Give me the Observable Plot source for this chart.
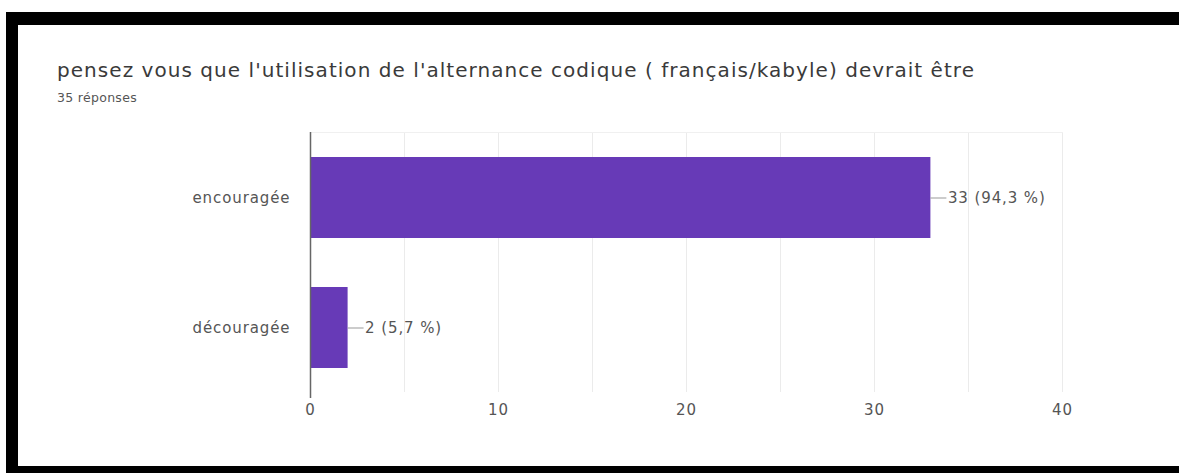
<!DOCTYPE html>
<html>
<head>
<meta charset="utf-8">
<script src="https://cdn.jsdelivr.net/npm/d3@7"></script>
<script src="https://cdn.jsdelivr.net/npm/@observablehq/plot@0.6"></script>
<style>
  html, body { margin: 0; padding: 0; background: #fff; }
  body { width: 1179px; height: 473px; position: relative; overflow: hidden; font-family: "DejaVu Sans", sans-serif; }
  .bt { position: absolute; left: 6px; top: 12px; width: 1173px; height: 13px; background: #000; }
  .bl { position: absolute; left: 6px; top: 12px; width: 12px; height: 461px; background: #000; }
  .bb { position: absolute; left: 6px; top: 466px; width: 1173px; height: 7px; background: #000; }
  #title { position: absolute; left: 57px; top: 58px; font-size: 20px; color: #3a3a3a; white-space: nowrap; line-height: 24px; }
  #sub { position: absolute; left: 57px; top: 91px; font-size: 12.5px; color: #555; white-space: nowrap; line-height: 14px; }
  #chart { position: absolute; left: 0; top: 120px; }
  #chart svg text { letter-spacing: 0.9px; }
</style>
</head>
<body>
<div class="bt"></div><div class="bl"></div><div class="bb"></div>
<div id="title"></div>
<div id="sub"></div>
<div id="chart"></div>
<script>
const titleText = "pensez vous que l'utilisation de l'alternance codique ( français/kabyle) devrait être";
const subtitleText = "35 réponses";
const categories = ["encouragée", "découragée"];
const counts = [33, 2];
const percents = ["94,3", "5,7"];
const xTicks = [0, 10, 20, 30, 40];
const xGrid = [5, 10, 15, 20, 25, 30, 35, 40];

function fitWidth(el, text, target) {
  el.textContent = text;
  const w = el.getBoundingClientRect().width;
  const n = text.length;
  el.style.letterSpacing = ((target - w) / n) + "px";
}
fitWidth(document.getElementById("title"), titleText, 918);
fitWidth(document.getElementById("sub"), subtitleText, 80);

const data = categories.map((c, i) => ({cat: c, count: counts[i], label: `${counts[i]} (${percents[i]} %)`}));

const chart = Plot.plot({
  width: 1179,
  height: 320,
  marginLeft: 310,
  marginRight: 117,
  marginTop: 12,
  marginBottom: 48,
  style: {fontFamily: "'DejaVu Sans', sans-serif", fontSize: "15px", color: "#555", background: "transparent"},
  x: {domain: [0, 40], ticks: xTicks, tickSize: 0, tickPadding: 12, label: null},
  y: {domain: categories, paddingInner: 0.38, paddingOuter: 0.19, tickSize: 0, tickPadding: 20, label: null},
  marks: [
    Plot.ruleX(xGrid, {stroke: "#ebebeb", strokeWidth: 1}),
    Plot.ruleY([0], {frameAnchor: "bottom", stroke: "#e6e6e6"}),
    Plot.frame({anchor: "top", stroke: "#f0f0f0"}),
    Plot.barX(data, {y: "cat", x: "count", fill: "#673AB7"}),
    Plot.ruleY(data, {y: "cat", x1: "count", x2: d => d.count + 0.85, stroke: "#999", strokeWidth: 1}),
    Plot.text(data, {y: "cat", x: d => d.count + 0.85, text: "label", textAnchor: "start", dx: 1, fill: "#555", fontSize: 15}),
    Plot.ruleX([0], {stroke: "#666", strokeWidth: 1.5, insetBottom: -6})
  ]
});
document.getElementById("chart").appendChild(chart);
</script>
</body>
</html>
